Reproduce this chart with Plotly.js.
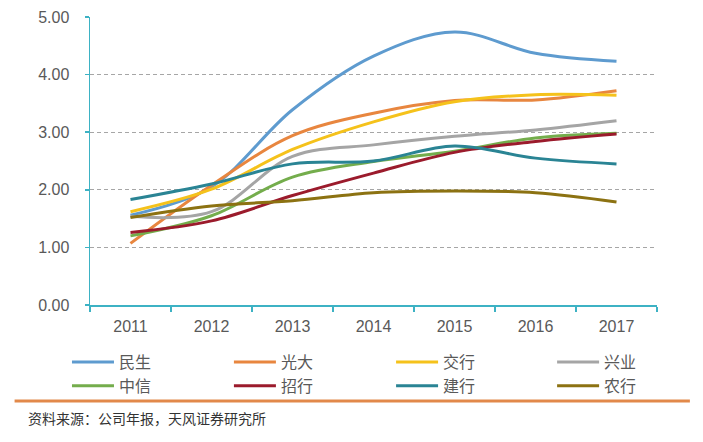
<!DOCTYPE html>
<html>
<head>
<meta charset="utf-8">
<script src="https://cdn.plot.ly/plotly-3.0.1.min.js"></script>
<style>html,body{margin:0;padding:0;background:#fff;}#chart{width:703px;height:442px;}</style>
</head>
<body>
<div id="chart"></div>
<script>
const years = ['2011','2012','2013','2014','2015','2016','2017'];
const names = ['民生','光大','交行','兴业','中信','招行','建行','农行'];
const minsheng = [1.56, 2.05, 3.39, 4.32, 4.74, 4.37, 4.23];
const guangda  = [1.07, 2.08, 2.94, 3.33, 3.55, 3.56, 3.72];
const jiaohang = [1.62, 2.01, 2.70, 3.18, 3.53, 3.65, 3.64];
const xingye   = [1.54, 1.62, 2.58, 2.78, 2.93, 3.04, 3.20];
const zhongxin = [1.20, 1.55, 2.22, 2.49, 2.67, 2.90, 2.98];
const zhaohang = [1.26, 1.46, 1.90, 2.29, 2.65, 2.84, 2.97];
const jianhang = [1.83, 2.10, 2.45, 2.50, 2.76, 2.55, 2.45];
const nonghang = [1.52, 1.72, 1.81, 1.95, 1.98, 1.95, 1.79];
const seriesValues = [minsheng, guangda, jiaohang, xingye, zhongxin, zhaohang, jianhang, nonghang];
const colors = ['#5E9BCF','#E8863F','#F5C21B','#A5A5A5','#74AD4C','#9B1B2C','#2A8494','#8C7212'];
const sourceText = '资料来源：公司年报，天风证券研究所';

const font = 'Arial, "Liberation Sans", "Noto Sans CJK SC", sans-serif';
const legendIds = ['legend', 'legend2', 'legend3', 'legend4'];
const traces = names.map((n, i) => ({
  type: 'scatter', mode: 'lines', name: n, x: years, y: seriesValues[i],
  legend: legendIds[i % 4],
  line: {color: colors[i], width: 3, shape: 'spline', smoothing: 1},
  hoverinfo: 'skip'
}));

const legendCols = [-0.0406, 0.245, 0.531, 0.815];
function legendBox(xp) {
  return {
    orientation: 'v', x: xp, xanchor: 'left', y: -0.139, yanchor: 'top',
    itemwidth: 42, traceorder: 'normal', tracegroupgap: 0, bgcolor: 'rgba(0,0,0,0)',
    font: {family: '"Noto Sans CJK SC", sans-serif', size: 16, color: '#595959'}
  };
}

const axisColor = '#3DB2C4';
const layout = {
  width: 703, height: 442,
  margin: {l: 90, r: 46, t: 17, b: 137},
  paper_bgcolor: '#fff', plot_bgcolor: '#fff',
  font: {family: font, size: 16, color: '#595959'},
  showlegend: true,
  legend: legendBox(legendCols[0]),
  legend2: legendBox(legendCols[1]),
  legend3: legendBox(legendCols[2]),
  legend4: legendBox(legendCols[3]),
  xaxis: {
    type: 'category', range: [-0.5, 6.5], showline: true, linecolor: axisColor, linewidth: 1.5,
    ticks: 'outside', tickson: 'boundaries', ticklen: 5, tickcolor: axisColor, tickwidth: 1.5,
    showgrid: false, zeroline: false, fixedrange: true, ticklabelstandoff: 6,
    tickfont: {family: font, size: 16, color: '#595959'}
  },
  yaxis: {
    range: [0, 5], dtick: 1, tick0: 0, tickformat: '.2f',
    showline: true, linecolor: axisColor, linewidth: 1.5,
    ticks: 'outside', ticklen: 4, tickcolor: axisColor, tickwidth: 1.5,
    showgrid: true, gridcolor: '#A6A6A6', griddash: '4px,3px', gridwidth: 1,
    zeroline: false, fixedrange: true, ticklabelstandoff: 12,
    tickfont: {family: font, size: 16, color: '#595959'}
  },
  shapes: [{
    type: 'line', xref: 'paper', yref: 'paper', x0: -0.133, x1: 1.058, y0: -0.333, y1: -0.333,
    line: {color: '#E2894A', width: 3}
  }],
  annotations: [{
    xref: 'paper', yref: 'paper', x: -0.113, y: -0.392, xanchor: 'left', yanchor: 'middle',
    text: sourceText, showarrow: false,
    font: {family: '"Noto Sans CJK SC", sans-serif', size: 14, color: '#333333'}
  }]
};
Plotly.newPlot('chart', traces, layout, {displayModeBar: false, staticPlot: true});
</script>
</body>
</html>
